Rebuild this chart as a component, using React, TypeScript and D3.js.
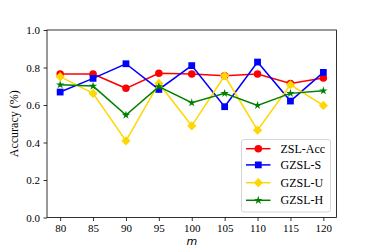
import { useEffect, useRef } from 'react'
import * as d3 from 'd3'

const mValues = [80, 85, 90, 95, 100, 105, 110, 115, 120]
const zslAcc = [0.765, 0.765, 0.689, 0.769, 0.765, 0.756, 0.765, 0.715, 0.744]
const gzslS = [0.669, 0.742, 0.82, 0.683, 0.81, 0.591, 0.829, 0.621, 0.774]
const gzslU = [0.751, 0.662, 0.409, 0.715, 0.489, 0.756, 0.466, 0.708, 0.598]
const gzslH = [0.708, 0.701, 0.546, 0.698, 0.612, 0.662, 0.598, 0.662, 0.676]
const yTicks = [0, 0.2, 0.4, 0.6, 0.8, 1.0]

const seriesList = [
  { name: 'ZSL-Acc', values: zslAcc, color: '#ff0000', marker: 'circle' },
  { name: 'GZSL-S', values: gzslS, color: '#0000ff', marker: 'square' },
  { name: 'GZSL-U', values: gzslU, color: '#ffd700', marker: 'diamond' },
  { name: 'GZSL-H', values: gzslH, color: '#008000', marker: 'star' },
]

const symbolFor = (marker: string) => {
  // 마커 모양
  if (marker === 'circle') return d3.symbol(d3.symbolCircle, 44)()
  if (marker === 'square') return d3.symbol(d3.symbolSquare, 46)()
  if (marker === 'diamond') return 'M0,-4.6L4.6,0L0,4.6L-4.6,0Z'
  return d3.symbol(d3.symbolStar, 22)()
}

const font = '"Liberation Serif", "Times New Roman", Times, serif'

export default function App() {
  const svgRef = useRef<SVGSVGElement>(null)

  useEffect(() => {
    if (!svgRef.current) return
    const width = 374
    const height = 249
    const margin = { top: 30, right: 37.5, bottom: 31.5, left: 47 }
    const svg = d3.select(svgRef.current)
    svg.selectAll('*').remove()
    svg.attr('width', width).attr('height', height)

    const x = d3.scaleLinear().domain([78, 122]).range([margin.left, width - margin.right])
    const y = d3.scaleLinear().domain([0, 1]).range([height - margin.bottom, margin.top])

    // X축
    const xAxis = svg.append('g')
      .attr('transform', `translate(0,${height - margin.bottom})`)
      .call(d3.axisBottom(x).tickValues(mValues).tickSize(3.5).tickPadding(3.5).tickFormat(d3.format('d')))
      .attr('font-family', font)
      .attr('font-size', 11)
    xAxis.select('.domain').remove()
    xAxis.selectAll('text').attr('fill', '#000')
    xAxis.selectAll('line').attr('stroke', '#000').attr('stroke-width', 0.8)

    // Y축
    const yAxis = svg.append('g')
      .attr('transform', `translate(${margin.left},0)`)
      .call(d3.axisLeft(y).tickValues(yTicks).tickSize(3.5).tickPadding(3.5).tickFormat(d3.format('.1f')))
      .attr('font-family', font)
      .attr('font-size', 11)
    yAxis.select('.domain').remove()
    yAxis.selectAll('text').attr('fill', '#000')
    yAxis.selectAll('line').attr('stroke', '#000').attr('stroke-width', 0.8)

    // 선 그리기
    const line = d3.line<number>().x((_, i) => x(mValues[i])).y(d => y(d))
    seriesList.forEach(s => {
      svg.append('path')
        .datum(s.values)
        .attr('d', line)
        .attr('fill', 'none')
        .attr('stroke', s.color)
        .attr('stroke-width', 1.5)
      svg.selectAll(null)
        .data(s.values)
        .enter()
        .append('path')
        .attr('d', symbolFor(s.marker))
        .attr('transform', (d, i) => `translate(${x(mValues[i])},${y(d)})`)
        .attr('fill', s.color)
    })

    // 테두리
    svg.append('rect')
      .attr('x', margin.left)
      .attr('y', margin.top)
      .attr('width', width - margin.left - margin.right)
      .attr('height', height - margin.top - margin.bottom)
      .attr('fill', 'none')
      .attr('stroke', '#000')
      .attr('stroke-width', 0.8)

    // 축 레이블
    svg.append('text')
      .attr('transform', `translate(18,${(margin.top + height - margin.bottom) / 2}) rotate(-90)`)
      .attr('text-anchor', 'middle')
      .attr('font-family', font)
      .attr('font-size', 12)
      .text('Accuracy (%)')

    svg.append('text')
      .attr('x', (margin.left + width - margin.right) / 2)
      .attr('y', 245)
      .attr('text-anchor', 'middle')
      .attr('font-family', '"DejaVu Sans", sans-serif')
      .attr('font-style', 'italic')
      .attr('font-size', 11)
      .text('m')

    // 범례
    const legend = svg.append('g')
    legend.append('rect')
      .attr('x', 241.5)
      .attr('y', 139.5)
      .attr('width', 89)
      .attr('height', 72.5)
      .attr('rx', 2.5)
      .attr('fill', '#fff')
      .attr('fill-opacity', 0.8)
      .attr('stroke', '#cccccc')
      .attr('stroke-width', 0.8)
    const rowY = [148.7, 164.9, 182.7, 200.3]
    seriesList.forEach((s, i) => {
      const ly = rowY[i]
      legend.append('line')
        .attr('x1', 246).attr('x2', 270.5)
        .attr('y1', ly).attr('y2', ly)
        .attr('stroke', s.color).attr('stroke-width', 1.5)
      legend.append('path')
        .attr('d', symbolFor(s.marker))
        .attr('transform', `translate(258.3,${ly})`)
        .attr('fill', s.color)
      legend.append('text')
        .attr('x', 280.5)
        .attr('y', ly + 4)
        .attr('font-family', font)
        .attr('font-size', 12)
        .text(s.name)
    })
  }, [])

  return (
    <div style={{ position: 'absolute', left: 0, top: 0 }}>
      <svg ref={svgRef}></svg>
    </div>
  )
}
